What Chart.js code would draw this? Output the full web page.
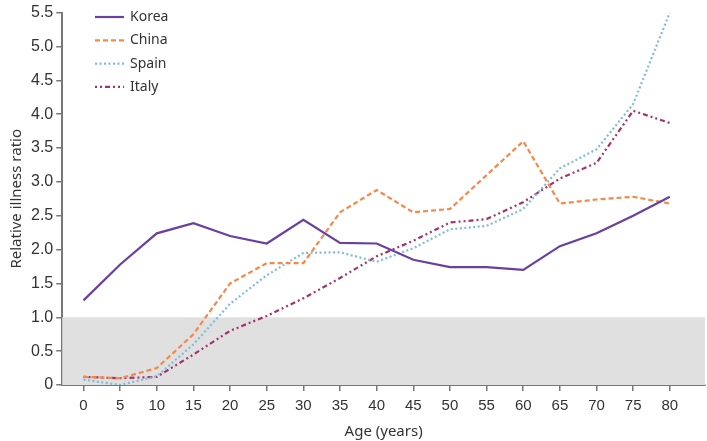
<!DOCTYPE html>
<html>
<head>
<meta charset="utf-8">
<script src="https://cdn.jsdelivr.net/npm/chart.js@4/dist/chart.umd.min.js"></script>
<style>
  html, body { margin: 0; padding: 0; background: #fff; }
  #wrap { width: 707px; height: 441px; }
</style>
</head>
<body>
<div id="wrap"><canvas id="chartAge"></canvas></div>
<script>
'use strict'

var ages = [0, 5, 10, 15, 20, 25, 30, 35, 40, 45, 50, 55, 60, 65, 70, 75, 80];
var korea = [1.25, 1.78, 2.24, 2.39, 2.2, 2.09, 2.44, 2.1, 2.09, 1.85, 1.74, 1.74, 1.7, 2.05, 2.24, 2.5, 2.78];
var china = [0.12, 0.1, 0.25, 0.75, 1.5, 1.8, 1.8, 2.55, 2.88, 2.55, 2.6, 3.1, 3.6, 2.68, 2.74, 2.78, 2.68];
var spain = [0.08, 0.0, 0.13, 0.6, 1.2, 1.62, 1.95, 1.96, 1.82, 2.02, 2.3, 2.35, 2.6, 3.2, 3.48, 4.15, 5.5];
var italy = [0.12, 0.1, 0.12, 0.45, 0.8, 1.02, 1.28, 1.58, 1.9, 2.13, 2.4, 2.45, 2.7, 3.05, 3.28, 4.05, 3.87];
var yTicks = [0, 0.5, 1, 1.5, 2, 2.5, 3, 3.5, 4, 4.5, 5, 5.5];
var bandTop = 1.0;

function pts(vals) {
    return ages.map(function(a, i) { return { x: a, y: vals[i] }; });
}

// grey band under ratio 1.0
var bandPlugin = {
    id: 'band',
    beforeDatasetsDraw: function(chart) {
        var ctx = chart.ctx, area = chart.chartArea, y = chart.scales.y;
        var top = y.getPixelForValue(bandTop), bottom = y.getPixelForValue(0);
        ctx.save();
        ctx.fillStyle = '#e0e0e0';
        ctx.fillRect(area.left, top, area.right - area.left, bottom - top);
        ctx.restore();
    }
};

// legend drawn inside the plot, top left
var legendPlugin = {
    id: 'innerLegend',
    afterDraw: function(chart) {
        var ctx = chart.ctx;
        var x0 = 95, y0 = 17, gap = 23.3;
        ctx.save();
        chart.data.datasets.forEach(function(ds, i) {
            var yy = y0 + i * gap;
            ctx.beginPath();
            ctx.strokeStyle = ds.borderColor;
            ctx.lineWidth = ds.borderWidth;
            ctx.setLineDash(ds.borderDash || []);
            ctx.moveTo(x0, yy);
            ctx.lineTo(x0 + 29, yy);
            ctx.stroke();
            ctx.setLineDash([]);
            ctx.fillStyle = '#333';
            ctx.font = '14px "Noto Sans", sans-serif';
            ctx.textBaseline = 'middle';
            ctx.fillText(ds.label, x0 + 35, yy);
        });
        ctx.restore();
    }
};

var ctxAge = document.getElementById('chartAge');
var ageChart = new Chart(ctxAge, {
    type: 'line',
    data: {
        datasets: [{
            label: 'Korea',
            data: pts(korea),
            borderColor: '#6a3fa0',
            borderWidth: 2.2
        }, {
            label: 'China',
            data: pts(china),
            borderColor: '#f5894a',
            borderWidth: 2.2,
            borderDash: [5, 3]
        }, {
            label: 'Spain',
            data: pts(spain),
            borderColor: '#7fbbd9',
            borderWidth: 2.2,
            borderDash: [2, 2.5]
        }, {
            label: 'Italy',
            data: pts(italy),
            borderColor: '#a3336b',
            borderWidth: 2.2,
            borderDash: [2, 3, 2, 3, 5, 3]
        }]
    },
    options: {
        responsive: true,
        maintainAspectRatio: false,
        animation: false,
        elements: { point: { radius: 0 }, line: { tension: 0 } },
        layout: { padding: { top: 8, right: 2, left: 4, bottom: 0 } },
        plugins: {
            legend: { display: false },
            tooltip: { enabled: false }
        },
        scales: {
            x: {
                type: 'linear',
                min: -2.9,
                max: 84.8,
                afterBuildTicks: function(axis) {
                    axis.ticks = ages.map(function(a) { return { value: a }; });
                },
                grid: { drawOnChartArea: false, drawTicks: true, tickLength: 6, color: '#777', lineWidth: 1.5 },
                border: { display: true, color: '#777', width: 2 },
                ticks: {
                    color: '#333',
                    font: { size: 15, family: '"Liberation Sans", Arial, sans-serif' },
                    padding: 6
                },
                title: {
                    display: true,
                    text: 'Age (years)',
                    color: '#333',
                    font: { size: 15, family: '"Noto Sans", sans-serif' },
                    padding: { top: 2, bottom: 0 }
                }
            },
            y: {
                min: 0,
                max: 5.5,
                afterBuildTicks: function(axis) {
                    axis.ticks = yTicks.map(function(v) { return { value: v }; });
                },
                grid: { drawOnChartArea: false, drawTicks: true, tickLength: 6, color: '#777', lineWidth: 1.5 },
                border: { display: true, color: '#777', width: 2 },
                ticks: {
                    color: '#333',
                    font: { size: 16, family: '"Liberation Sans", Arial, sans-serif' },
                    padding: 3,
                    callback: function(v) { return v === 0 ? '0' : v.toFixed(1); }
                },
                title: {
                    display: true,
                    text: 'Relative illness ratio',
                    color: '#333',
                    font: { size: 15, family: '"Noto Sans", sans-serif' },
                    padding: { bottom: 2 }
                }
            }
        }
    },
    plugins: [bandPlugin, legendPlugin]
});
</script>
</body>
</html>
